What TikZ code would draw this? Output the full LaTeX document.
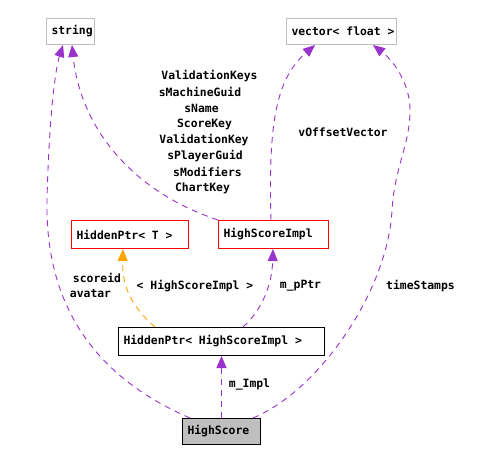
\documentclass[tikz,border=0pt]{standalone}
\usepackage{fontspec}
\setmonofont{DejaVu Sans Mono}
\usetikzlibrary{arrows.meta}
\definecolor{dpurple}{HTML}{9A32CD}
\definecolor{dorange}{HTML}{FFA500}
\definecolor{dgray}{HTML}{BFBFBF}
\newcommand{\bxt}[2]{\makebox[#1][l]{#2}}
\begin{document}
\begin{tikzpicture}[x=1pt,y=-1pt,
  every node/.style={font=\ttfamily\bfseries\fontsize{11.4}{13}\selectfont, inner sep=0pt},
  box/.style={draw, rectangle, line width=1pt, anchor=north west, inner xsep=5pt, inner ysep=0pt, minimum height=#1},
  lbl/.style={anchor=center},
  pedge/.style={draw=dpurple, line width=0.9pt, dash pattern=on 6pt off 5pt, -{Triangle[length=12pt,width=10pt]}, color=dpurple},
  oedge/.style={draw=dorange, line width=0.9pt, dash pattern=on 6pt off 5pt, -{Triangle[length=12pt,width=10pt]}, color=dorange}
]
\fill[white] (0,0) rectangle (497,462);
\useasboundingbox (0,0) rectangle (497,462);

% nodes
\node[box=26, draw=dgray] (str) at (46,18) {\bxt{38pt}{string}};
\node[box=26, draw=dgray] (vec) at (286,18) {\bxt{100pt}{vector< float >}};
\node[box=28, draw=red] (hpt) at (71,220) {\bxt{107pt}{HiddenPtr< T >}};
\node[box=28, draw=red] (hsi) at (218,220) {\bxt{100pt}{HighScoreImpl}};
\node[box=28, draw=black] (hp) at (118,327) {\bxt{196pt}{HiddenPtr< HighScoreImpl >}};
\node[box=26, draw=black, fill=dgray] (hs) at (182,418) {\bxt{68pt}{HighScore}};

% helper coordinates
\coordinate (b1) at (47,200);
\coordinate (b4) at (392,210);
\coordinate (b4b) at (410,110);

% edges
\draw[pedge] ([xshift=8pt]hs.north west) .. controls (90,375) and (45,300) .. (b1)
   .. controls (49,120) and (55,70) .. ([xshift=17pt]str.south west);
\draw[pedge] (hsi.north west) .. controls (128,190) and (80,124) .. ([xshift=26pt]str.south west);
\draw[pedge] ([xshift=53pt]hsi.north west) .. controls (268,120) and (277,78) .. ([xshift=29pt]vec.south west);
\draw[pedge] ([xshift=-8pt]hs.north east) .. controls (320,390) and (388,290) .. (b4)
   .. controls (395,165) and (410,145) .. (b4b)
   .. controls (410,85) and (395,62) .. ([xshift=-24pt]vec.south east);
\draw[pedge] (hs.north) -- (hp.south);
\draw[oedge] ([xshift=37pt]hp.north west) .. controls (130,305) and (122,285) .. ([xshift=52pt]hpt.south west);
\draw[pedge] ([xshift=125pt]hp.north west) .. controls (262,310) and (272,285) .. ([xshift=55pt]hsi.south west);

% labels
\node[lbl] (k1) at (209.5,76) {ValidationKeys};
\node[lbl] (k2) at (200,92) {sMachineGuid};
\node[lbl] (k3) at (201.5,108) {sName};
\node[lbl] (k4) at (204.5,124) {ScoreKey};
\node[lbl] (k5) at (204,140) {ValidationKey};
\node[lbl] (k6) at (205,156) {sPlayerGuid};
\node[lbl] (k7) at (207.5,172) {sModifiers};
\node[lbl] (k8) at (202.5,188) {ChartKey};
\node[lbl] (lv) at (343,132) {vOffsetVector};
\node[lbl] (ls1) at (97,278) {scoreid};
\node[lbl] (ls2) at (90.5,294) {avatar};
\node[lbl] (lt) at (195,286) {< HighScoreImpl >};
\node[lbl] (lp) at (300.5,286) {m\_pPtr};
\node[lbl] (lts) at (420.5,286) {timeStamps};
\node[lbl] (li) at (249.5,385) {m\_Impl};
\end{tikzpicture}
\end{document}
